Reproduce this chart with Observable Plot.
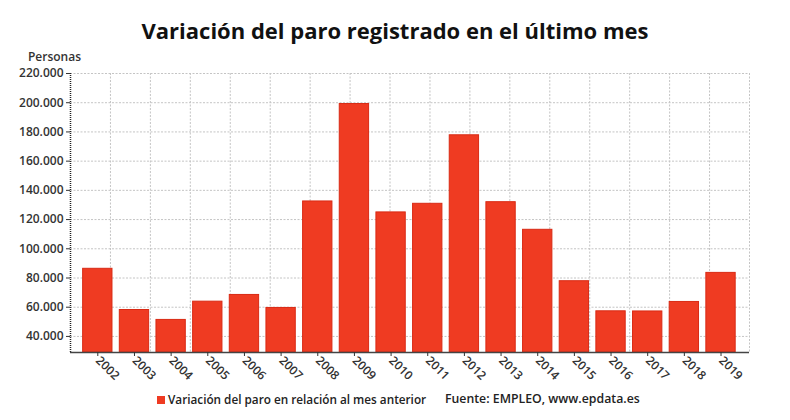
<!DOCTYPE html>
<html>
<head>
<meta charset="utf-8">
<script src="https://cdn.jsdelivr.net/npm/d3@7"></script>
<script src="https://cdn.jsdelivr.net/npm/@observablehq/plot@0.6"></script>
<style>
  body { margin: 0; background: #fff; font-family: "Open Sans", sans-serif; }
  #wrap { position: relative; width: 790px; height: 420px; overflow: hidden; }
  #title { position: absolute; left: 0; width: 790px; top: 15px; text-align: center;
           font-size: 22px; font-weight: 700; color: #111; line-height: 30px; }
  #chart { position: absolute; left: 0; top: 45px; }
  #chart svg text { font-size: 12px; font-weight: 600; }
  #legend { position: absolute; top: 390px; left: 157px; font-size: 11.75px; font-weight: 600;
            color: #222; line-height: 18px; white-space: nowrap; }
  #legend .sw { display: inline-block; width: 8px; height: 8px; background: #ef3b22;
                margin-right: 3px; vertical-align: 0px; }
  #legend .src { position: absolute; left: 288px; top: 0; font-size: 12.3px; }
</style>
</head>
<body>
<div id="wrap">
  <div id="title">Variación del paro registrado en el último mes</div>
  <div id="chart"></div>
  <div id="legend"><span class="sw"></span>Variación del paro en relación al mes anterior<span class="src">Fuente: EMPLEO, www.epdata.es</span></div>
</div>
<script>
// Monthly change in registered unemployment, by year
const years = [2002, 2003, 2004, 2005, 2006, 2007, 2008, 2009, 2010,
               2011, 2012, 2013, 2014, 2015, 2016, 2017, 2018, 2019];
const values = [86300, 58100, 51300, 63800, 68400, 59500, 132400, 199100, 124900,
                130800, 177700, 131900, 113000, 77800, 57200, 57100, 63600, 83500];
const yTicks = [40000, 60000, 80000, 100000, 120000, 140000, 160000, 180000, 200000, 220000];
const yLabel = "Personas";

const yMin = 29000, yMax = 220000;
const xDomain = [2001.255, 2019.777];

const data = years.map((year, i) => ({year, value: values[i]}));
const esFormat = d3.formatLocale({decimal: ",", thousands: ".", grouping: [3], currency: ["", " €"]}).format(",");
// vertical guide lines split the frame into 17 equal columns
const vGrid = d3.range(1, 18).map(k => xDomain[0] + k * (xDomain[1] - xDomain[0]) / 17);

const chart = Plot.plot({
  width: 790,
  height: 345,
  marginLeft: 70,
  marginRight: 41,
  marginTop: 28,
  marginBottom: 38,
  style: {fontFamily: "Open Sans, sans-serif", color: "#333", background: "#fff"},
  x: {domain: xDomain, axis: null},
  y: {domain: [yMin, yMax], axis: null},
  marks: [
    Plot.ruleY(yTicks, {stroke: "#c4c4c4", strokeDasharray: "2,1.5"}),
    Plot.ruleX(vGrid, {stroke: "#c4c4c4", strokeDasharray: "2,1.5"}),
    Plot.rectY(data, {
      x1: d => d.year - 0.4, x2: d => d.year + 0.4,
      y1: yMin, y2: "value",
      fill: "#ef3b22", stroke: "#d92a14", strokeWidth: 1
    }),
    Plot.ruleX([xDomain[0]], {stroke: "#222", strokeWidth: 1.5, strokeDasharray: "1,1"}),
    Plot.ruleY([yMin], {stroke: "#444", strokeWidth: 1.5}),
    Plot.axisY(yTicks, {
      tickSize: 4, tickPadding: 3, tickFormat: esFormat,
      fill: "#333", label: null
    }),
    Plot.axisX(years, {
      tickSize: 4, tickPadding: 2, tickRotate: 45, tickFormat: d => String(d),
      fill: "#333", label: null
    }),
    Plot.text([yLabel], {
      frameAnchor: "top-left", dx: -16, dy: -21, text: d => d,
      textAnchor: "middle", fill: "#333"
    })
  ]
});
document.getElementById("chart").append(chart);
</script>
</body>
</html>
